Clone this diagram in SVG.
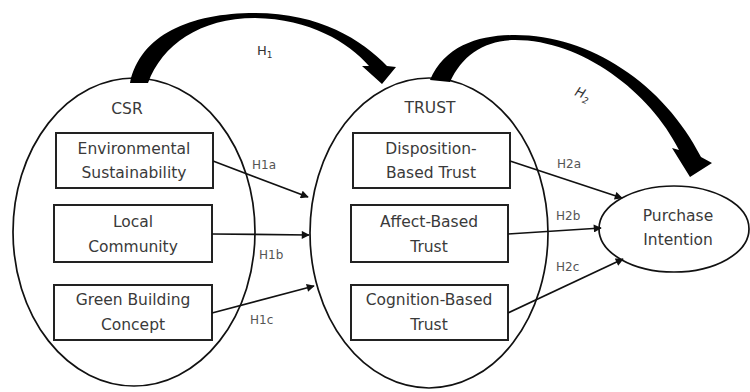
<svg xmlns="http://www.w3.org/2000/svg" width="750" height="392" viewBox="0 0 750 392">
<defs>
<style>
.el{fill:none;stroke:#111;stroke-width:1.7}
.bx{fill:#fff;stroke:#222;stroke-width:2}
.t{font-family:"DejaVu Sans",sans-serif;font-size:15.5px;fill:#3a3a3a;text-anchor:middle}
.h{font-family:"DejaVu Sans",sans-serif;font-size:12px;fill:#555}
.c{fill:none;stroke:#111;stroke-width:1.7}
.big{fill:#000}
</style>
<marker id="ah" viewBox="0 0 10 10" refX="9" refY="5" markerWidth="9" markerHeight="8" markerUnits="userSpaceOnUse" orient="auto">
<path d="M0,0 L10,5 L0,10 Z" fill="#111"/>
</marker>
</defs>
<rect width="750" height="392" fill="#fff"/>
<g id="csr">
<ellipse class="el" cx="134" cy="232" rx="121" ry="154"/>
<text class="t" x="127" y="114">CSR</text>
</g>
<g id="trust">
<ellipse class="el" cx="429" cy="233" rx="119" ry="155"/>
<text class="t" x="430" y="113">TRUST</text>
</g>
<g id="env">
<rect class="bx" x="56" y="133" width="157" height="55"/>
<text class="t" x="134" y="154">Environmental</text>
<text class="t" x="134" y="178">Sustainability</text>
</g>
<g id="local">
<rect class="bx" x="54" y="205" width="158" height="57"/>
<text class="t" x="133" y="227">Local</text>
<text class="t" x="133" y="252">Community</text>
</g>
<g id="green">
<rect class="bx" x="54" y="285" width="158" height="55"/>
<text class="t" x="133" y="305">Green Building</text>
<text class="t" x="133" y="330">Concept</text>
</g>
<g id="disp">
<rect class="bx" x="353" y="133" width="157" height="55"/>
<text class="t" x="431" y="154">Disposition-</text>
<text class="t" x="431" y="178">Based Trust</text>
</g>
<g id="affect">
<rect class="bx" x="351" y="205" width="157" height="57"/>
<text class="t" x="429" y="227">Affect-Based</text>
<text class="t" x="429" y="252">Trust</text>
</g>
<g id="cog">
<rect class="bx" x="351" y="285" width="157" height="55"/>
<text class="t" x="429" y="305">Cognition-Based</text>
<text class="t" x="429" y="330">Trust</text>
</g>
<g id="pi">
<ellipse class="el" cx="674" cy="229" rx="75" ry="43"/>
<text class="t" x="678" y="221">Purchase</text>
<text class="t" x="678" y="245">Intention</text>
</g>
<g id="connectors">
<line class="c" x1="213" y1="161" x2="308" y2="197" marker-end="url(#ah)"/>
<line class="c" x1="212" y1="234" x2="309" y2="235" marker-end="url(#ah)"/>
<line class="c" x1="212" y1="313" x2="314" y2="286" marker-end="url(#ah)"/>
<line class="c" x1="510" y1="161" x2="622" y2="198" marker-end="url(#ah)"/>
<line class="c" x1="508" y1="234" x2="601" y2="228" marker-end="url(#ah)"/>
<line class="c" x1="508" y1="313" x2="623" y2="259" marker-end="url(#ah)"/>
<path class="big" d="M130,83 C140,35 190,13 255,13 C320,13 362,40 387,66 L396,67 L382,84 L362,66 L369,66 C348,42 310,19 255,18 C200,18 162,45 148,83 Z"/>
<path class="big" d="M430,80 C445,45 480,35 515,35 C590,35 664,84 701,157 L712,163 L690,177 L672,148 L679,150 C650,92 582,40 515,40 C485,40 462,55 450,82 Z"/>
<text class="h" x="252" y="169">H1a</text>
<text class="h" x="259" y="259">H1b</text>
<text class="h" x="250" y="324">H1c</text>
<text class="h" x="557" y="168">H2a</text>
<text class="h" x="556" y="220">H2b</text>
<text class="h" x="556" y="271">H2c</text>
<text class="h" x="257" y="55" style="font-size:13px;fill:#333">H<tspan font-size="9" dy="3">1</tspan></text>
<text class="h" transform="translate(574,95) rotate(22)" style="font-size:13px;font-style:italic;fill:#333">H<tspan font-size="9" dy="4">2</tspan></text>
</g>
</svg>
